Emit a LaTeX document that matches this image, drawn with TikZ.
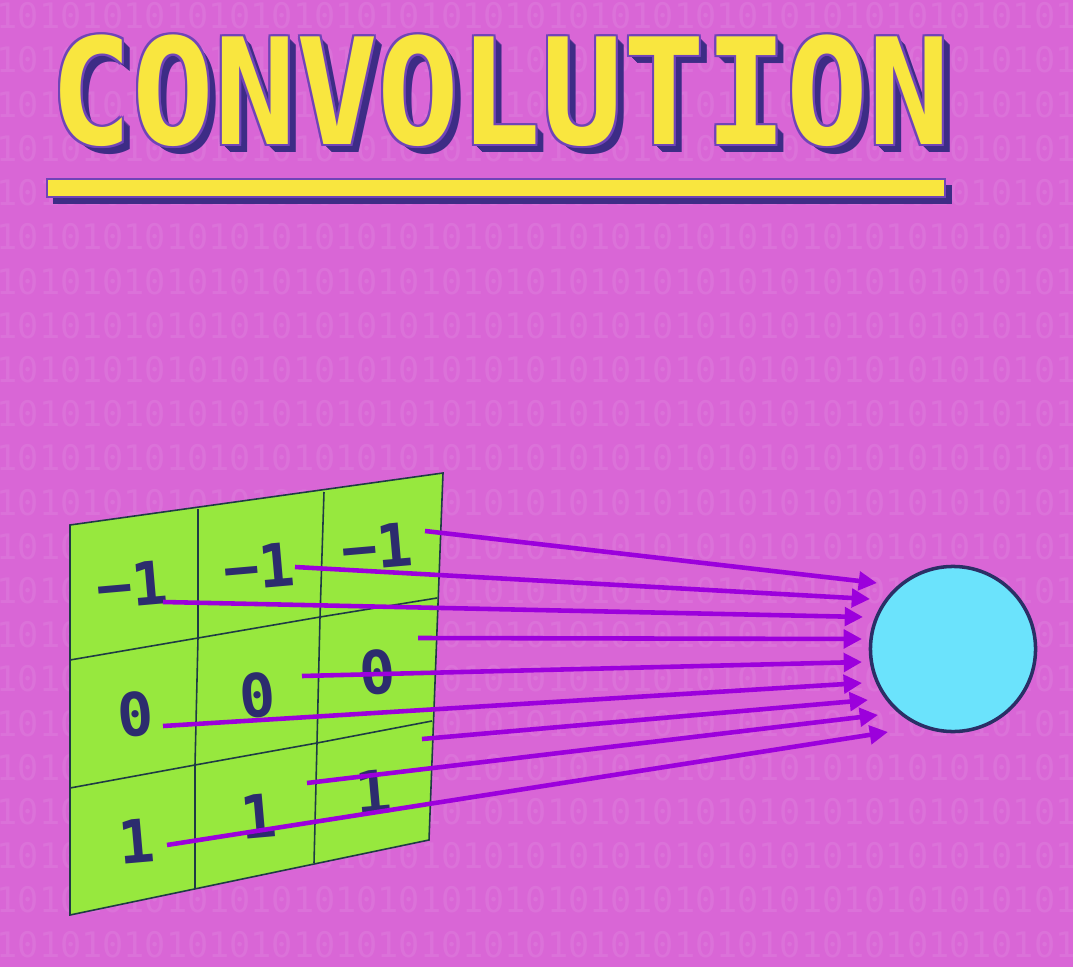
\documentclass[tikz,border=0pt]{standalone}
\usepackage{fontspec}
\newfontfamily\monofont{DejaVu Sans Mono}
\usetikzlibrary{arrows.meta}
\definecolor{bgpink}{HTML}{D966D6}
\definecolor{titleyellow}{HTML}{F9E63F}
\definecolor{titleshadow}{HTML}{3D2C86}
\definecolor{titleline}{HTML}{7044B8}
\definecolor{kgreen}{HTML}{97E83E}
\definecolor{gridedge}{HTML}{1E3B45}
\definecolor{numblue}{HTML}{2C2C6E}
\definecolor{raypurple}{HTML}{9C00DC}
\definecolor{cellcyan}{HTML}{6BE3FC}
\definecolor{cellline}{HTML}{2A2F66}

\begin{document}
\begin{tikzpicture}[
		x=0.01cm, y=-0.01cm,
		bits/.style = {text=white, opacity=0.08, font=\monofont\fontsize{10}{10}\selectfont, anchor=west, inner sep=0pt},
		titletext/.style = {font=\monofont\bfseries\fontsize{42}{42}\selectfont, anchor=base west, inner sep=0pt, xscale=0.92},
		gridline/.style = {draw=gridedge, line width=0.45pt},
		cellnum/.style = {text=numblue, font=\monofont\bfseries\fontsize{17}{17}\selectfont, inner sep=0pt, rotate=5},
		ray/.style = {-{Triangle[length=5.2pt, width=5.2pt]}, draw=raypurple, line width=1.3pt},
		neuron/.style = {circle, draw=cellline, fill=cellcyan, line width=1pt, minimum size=1.65cm, inner sep=0pt}
		]
		
		%Background
		\fill[bgpink] (0,0) rectangle (1073,967);
		\useasboundingbox (0,0) rectangle (1073,967);
		\begin{scope}
			\clip (0,0) rectangle (1073,967);
			\foreach \k in {0,...,21}
				\node[bits] (row\k) at (-4, {16+44.2*\k}) {101010101010101010101010101010101010101010101010101010101010};
		\end{scope}
		
		%Title
		\foreach \d in {1,...,8}
			\node[titletext, text=titleshadow] (ts\d) at ({50+\d}, {145+\d}) {CONVOLUTION};
		\foreach \dx/\dy [count=\i] in {-2/0, 2/0, 0/-2, 0/2, -2/-2, 2/2, -2/2, 2/-2}
			\node[titletext, text=titleline] (to\i) at ({50+\dx}, {145+\dy}) {CONVOLUTION};
		\node[titletext, text=titleyellow] (title) at (50, 145) {CONVOLUTION};
		\fill[titleshadow] (53,185) rectangle (952,204);
		\filldraw[fill=titleyellow, draw=titleline, line width=0.8pt] (47,179) rectangle (945,197);
		
		%Kernel corners
		\coordinate (g00) at (70,525);	\coordinate (g01) at (198,509);	\coordinate (g02) at (324,492);	\coordinate (g03) at (443,473);
		\coordinate (g10) at (70,660);	\coordinate (g11) at (198,638);	\coordinate (g12) at (320,617);	\coordinate (g13) at (437,598);
		\coordinate (g20) at (70,788);	\coordinate (g21) at (195,765);	\coordinate (g22) at (317,743);	\coordinate (g23) at (432,721);
		\coordinate (g30) at (70,915);	\coordinate (g31) at (195,888);	\coordinate (g32) at (314,863);	\coordinate (g33) at (429,840);
		
		%Kernel
		\filldraw[gridline, fill=kgreen] (g00) -- (g03) -- (g33) -- (g30) -- cycle;
		\draw[gridline] (g01) -- (g11) -- (g21) -- (g31);
		\draw[gridline] (g02) -- (g12) -- (g22) -- (g32);
		\draw[gridline] (g10) -- (g11) -- (g12) -- (g13);
		\draw[gridline] (g20) -- (g21) -- (g22) -- (g23);
		
		%Nodes
		\node[cellnum]	(n11)	at	(132,585)	{−1};
		\node[cellnum]	(n12)	at	(259,567)	{−1};
		\node[cellnum]	(n13)	at	(377,547)	{−1};
		\node[cellnum]	(n21)	at	(136,714)	{0};
		\node[cellnum]	(n22)	at	(258,695)	{0};
		\node[cellnum]	(n23)	at	(378,672)	{0};
		\node[cellnum]	(n31)	at	(137,841)	{1};
		\node[cellnum]	(n32)	at	(259,816)	{1};
		\node[cellnum]	(n33)	at	(374,792)	{1};
		\node[neuron]	(cell)	at	(953,649)	{};
		
		%Rays
		\foreach \sx/\sy/\ex/\ey [count=\i] in {425/531/877/583, 295/567/870/599, 163/602/863/617,
				418/638/862/639, 302/676/862/662, 163/726/862/683,
				422/739/868/700, 307/783/878/715, 167/845/888/732}{
			\coordinate (s\i) at (\sx,\sy);
			\coordinate (e\i) at (\ex,\ey);
		}
		\foreach \i in {1,...,9}
			\draw[ray] (s\i) -- (e\i);
	\end{tikzpicture}
\end{document}
